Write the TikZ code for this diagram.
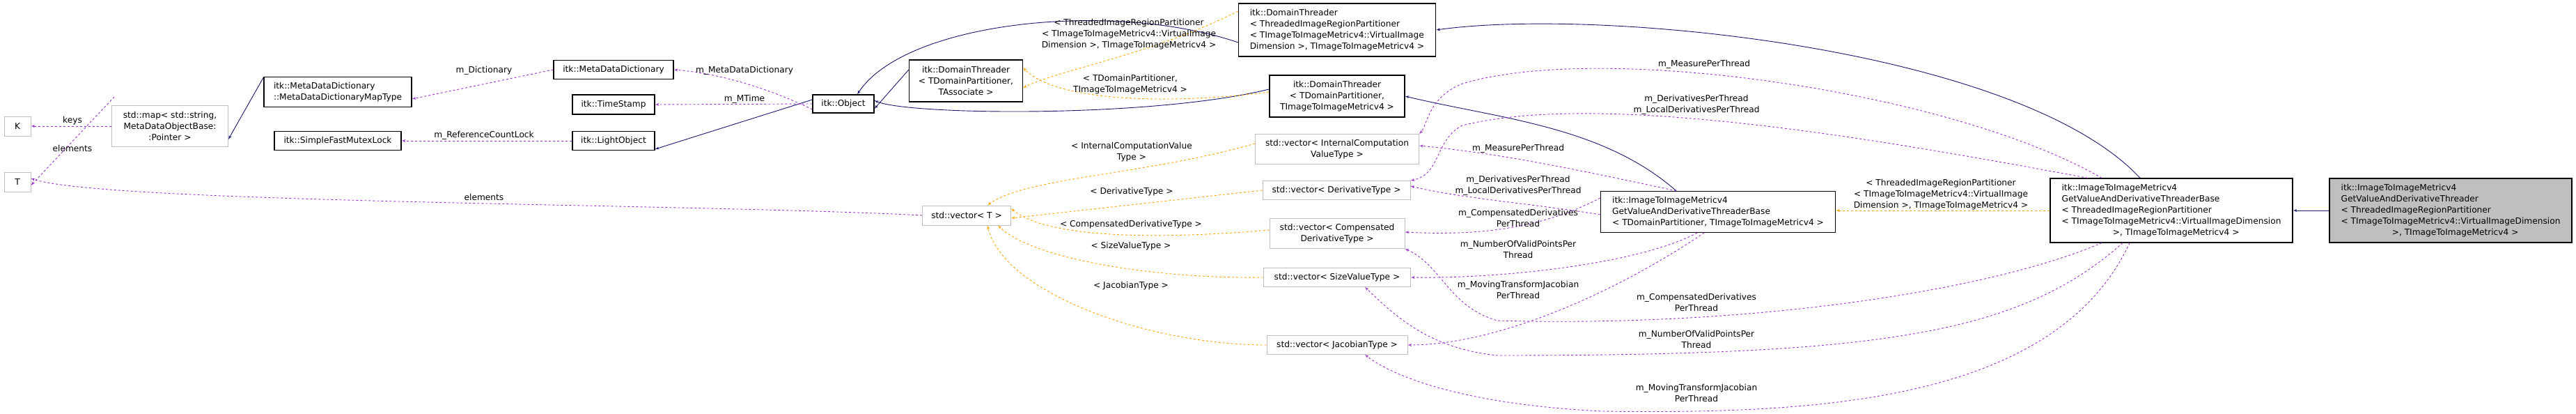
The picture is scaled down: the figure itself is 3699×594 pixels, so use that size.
\documentclass[tikz,border=0pt]{standalone}
\usepackage{fontspec}
\setmainfont{DejaVu Sans}
\usetikzlibrary{shapes,arrows,calc}
\definecolor{navy}{RGB}{25,25,112}
\definecolor{tmpl}{RGB}{255,165,0}
\definecolor{usage}{RGB}{153,50,204}
\definecolor{lgray}{RGB}{191,191,191}
\tikzstyle{cls} = [rectangle, draw=black, line width=1.2pt, inner sep=3pt,
    font=\fontsize{12.2}{16}\selectfont, align=center]
\tikzstyle{ext} = [cls, draw=lgray, line width=0.8pt]
\tikzstyle{lbl} = [font=\fontsize{12.2}{16}\selectfont, align=center, inner sep=0pt]
\tikzstyle{inh} = [draw=navy, line width=0.9pt, -latex']
\tikzstyle{tpl} = [draw=tmpl, line width=0.9pt, dashed, -latex']
\tikzstyle{use} = [draw=usage, line width=0.9pt, dashed, -latex']

\begin{document}
\begin{tikzpicture}[x=1pt, y=-1pt]
    \useasboundingbox (0,0) rectangle (3699,594);
    % Place nodes
    \node [ext, minimum width=38, minimum height=28] (k) at (25,181) {K};
    \node [ext, minimum width=38, minimum height=28] (t) at (25,261) {T};
    \node [ext, minimum width=167, minimum height=59] (map) at (244,181) {std::map< std::string,\\MetaDataObjectBase:\\:Pointer >};
    \node [cls, minimum width=212, minimum height=43, align=left] (maptype) at (485,132) {itk::MetaDataDictionary\\::MetaDataDictionaryMapType};
    \node [cls, minimum width=172, minimum height=27] (dict) at (881,100) {itk::MetaDataDictionary};
    \node [cls, minimum width=118, minimum height=28] (stamp) at (881,150) {itk::TimeStamp};
    \node [cls, minimum width=118, minimum height=27] (light) at (881,202) {itk::LightObject};
    \node [cls, minimum width=182, minimum height=27] (mutex) at (485,202) {itk::SimpleFastMutexLock};
    \node [cls, minimum width=88, minimum height=26] (object) at (1211,149) {itk::Object};
    \node [cls, minimum width=163, minimum height=60] (dt_assoc) at (1387,116) {itk::DomainThreader\\< TDomainPartitioner,\\TAssociate >};
    \node [cls, minimum width=283, minimum height=76, align=left] (dt_tirp) at (1920,43) {itk::DomainThreader\\< ThreadedImageRegionPartitioner\\< TImageToImageMetricv4::VirtualImage\\Dimension >, TImageToImageMetricv4 >};
    \node [cls, minimum width=194, minimum height=60] (dt_tdp) at (1920,138) {itk::DomainThreader\\< TDomainPartitioner,\\TImageToImageMetricv4 >};
    \node [ext, minimum width=235, minimum height=43] (v_icvt) at (1920,214) {std::vector< InternalComputation\\ValueType >};
    \node [ext, minimum width=212, minimum height=27] (v_deriv) at (1919,273) {std::vector< DerivativeType >};
    \node [ext, minimum width=194, minimum height=43] (v_comp) at (1920,335) {std::vector< Compensated\\DerivativeType >};
    \node [ext, minimum width=211, minimum height=27] (v_size) at (1920,398) {std::vector< SizeValueType >};
    \node [ext, minimum width=202, minimum height=27] (v_jac) at (1920,495) {std::vector< JacobianType >};
    \node [ext, minimum width=127, minimum height=28] (v_t) at (1388,309) {std::vector< T >};
    \node [cls, minimum width=337, minimum height=59, align=left] (base_tdp) at (2467,304) {itk::ImageToImageMetricv4\\GetValueAndDerivativeThreaderBase\\< TDomainPartitioner, TImageToImageMetricv4 >};
    \node [cls, minimum width=348, minimum height=92, align=left] (base_tirp) at (3118,302) {itk::ImageToImageMetricv4\\GetValueAndDerivativeThreaderBase\\< ThreadedImageRegionPartitioner\\< TImageToImageMetricv4::VirtualImageDimension\\\hspace*{6em}>, TImageToImageMetricv4 >};
    \node [cls, fill=lgray, minimum width=348, minimum height=92, align=left] (target) at (3519,302) {itk::ImageToImageMetricv4\\GetValueAndDerivativeThreader\\< ThreadedImageRegionPartitioner\\< TImageToImageMetricv4::VirtualImageDimension\\\hspace*{6em}>, TImageToImageMetricv4 >};
    % Draw inheritance edges
    \path [inh] (target.west) -- (base_tirp.east);
    \path [inh] ([xshift=-45pt]base_tirp.north) .. controls (2900,70) and (2300,10) .. (dt_tirp.east);
    \path [inh] ([xshift=-60pt]base_tdp.north) .. controls (2300,180) and (2150,170) .. (dt_tdp.east);
    \path [inh] ([yshift=-18pt]dt_tirp.west) .. controls (1600,0) and (1300,30) .. ([xshift=20pt]object.north);
    \path [inh] ([yshift=10pt]dt_tdp.west) .. controls (1650,170) and (1300,165) .. ([yshift=5pt]object.east);
    \path [inh] ([yshift=16pt]dt_assoc.west) -- ([yshift=-7pt]object.east);
    \path [inh] ([yshift=6pt]object.west) -- ([yshift=-12pt]light.east);
    \path [inh] ([yshift=21pt]maptype.west) -- ([yshift=-19pt]map.east);
    % Draw template edges
    \path [tpl] (base_tirp.west) -- (base_tirp.west -| base_tdp.east);
    \path [tpl] ([yshift=27pt]dt_tirp.west) .. controls (1650,80) and (1520,100) .. ([yshift=-10pt]dt_assoc.east);
    \path [tpl] ([yshift=6pt]dt_tdp.west) .. controls (1700,148) and (1520,150) .. ([yshift=19pt]dt_assoc.east);
    \path [tpl] ([yshift=8pt]v_icvt.west) .. controls (1650,250) and (1470,255) .. ([xshift=30pt]v_t.north);
    \path [tpl] (v_deriv.west) -- ([yshift=-4pt]v_t.east);
    \path [tpl] ([yshift=5pt]v_comp.west) .. controls (1650,345) and (1500,340) .. ([yshift=10pt]v_t.east);
    \path [tpl] (v_size.west) .. controls (1650,400) and (1480,370) .. ([xshift=45pt]v_t.south);
    \path [tpl] (v_jac.west) .. controls (1650,495) and (1440,420) .. ([xshift=30pt]v_t.south);
    % Draw usage edges
    \path [use] ([yshift=-8pt]object.west) .. controls (1100,125) and (1030,105) .. (dict.east);
    \path [use] (object.west) -- (stamp.east);
    \path [use] (light.west) -- (mutex.east);
    \path [use] (dict.west) -- ([yshift=-10pt]maptype.east);
    \path [use] (map.west) -- (k.east);
    \path [use] ([xshift=-80pt,yshift=12pt]map.north) -- ([yshift=-5pt]t.east);
    \path [use] (v_t.west) .. controls (1000,292) and (150,292) .. ([yshift=5pt]t.east);
    \path [use] ([xshift=-60pt]base_tdp.north) .. controls (2250,240) and (2150,220) .. ([yshift=5pt]v_icvt.east);
    \path [use] ([yshift=-4pt]base_tdp.west) .. controls (2200,292) and (2100,285) .. ([yshift=6pt]v_deriv.east);
    \path [use] ([yshift=20pt]base_tdp.west) .. controls (2200,335) and (2100,337) .. ([yshift=2pt]v_comp.east);
    \path [use] ([xshift=-30pt]base_tdp.south) .. controls (2350,380) and (2150,400) .. (v_size.east);
    \path [use] ([xshift=-20pt]base_tdp.south) .. controls (2320,420) and (2150,495) .. (v_jac.east);
    \path [use] ([xshift=-100pt]base_tirp.north) .. controls (2800,130) and (2300,60) .. (2100,120) .. controls (2050,140) and (2050,180) .. (v_icvt.north east);
    \path [use] ([xshift=-120pt]base_tirp.north) .. controls (2700,200) and (2300,130) .. (2100,180) .. controls (2060,200) and (2070,250) .. (v_deriv.north east);
    \path [use] ([xshift=-100pt]base_tirp.south) .. controls (2850,420) and (2500,470) .. (2150,460) .. controls (2080,440) and (2070,380) .. (v_comp.south east);
    \path [use] ([xshift=-70pt]base_tirp.south) .. controls (2900,480) and (2700,510) .. (2150,510) .. controls (2050,500) and (2000,450) .. ([xshift=40pt]v_size.south);
    \path [use] ([xshift=-60pt]base_tirp.south) .. controls (2950,580) and (2600,594) .. (2300,590) .. controls (2100,580) and (2000,540) .. ([xshift=40pt]v_jac.south);
    % Edge labels
    \node [lbl] at (104,173) {keys};
    \node [lbl] at (104,213) {elements};
    \node [lbl] at (695,283) {elements};
    \node [lbl] at (695,101) {m\_Dictionary};
    \node [lbl] at (1069,101) {m\_MetaDataDictionary};
    \node [lbl] at (1069,142) {m\_MTime};
    \node [lbl] at (695,194) {m\_ReferenceCountLock};
    \node [lbl] at (1621,49) {< ThreadedImageRegionPartitioner\\< TImageToImageMetricv4::VirtualImage\\Dimension >, TImageToImageMetricv4 >};
    \node [lbl] at (1623,121) {< TDomainPartitioner,\\TImageToImageMetricv4 >};
    \node [lbl] at (1625,218) {< InternalComputationValue\\Type >};
    \node [lbl] at (1625,275) {< DerivativeType >};
    \node [lbl] at (1624,322) {< CompensatedDerivativeType >};
    \node [lbl] at (1624,353) {< SizeValueType >};
    \node [lbl] at (1624,410) {< JacobianType >};
    \node [lbl] at (2180,213) {m\_MeasurePerThread};
    \node [lbl] at (2180,266) {m\_DerivativesPerThread\\m\_LocalDerivativesPerThread};
    \node [lbl] at (2180,313) {m\_CompensatedDerivatives\\PerThread};
    \node [lbl] at (2180,358) {m\_NumberOfValidPointsPer\\Thread};
    \node [lbl] at (2180,416) {m\_MovingTransformJacobian\\PerThread};
    \node [lbl] at (2447,92) {m\_MeasurePerThread};
    \node [lbl] at (2436,150) {m\_DerivativesPerThread\\m\_LocalDerivativesPerThread};
    \node [lbl] at (2436,434) {m\_CompensatedDerivatives\\PerThread};
    \node [lbl] at (2436,487) {m\_NumberOfValidPointsPer\\Thread};
    \node [lbl] at (2436,564) {m\_MovingTransformJacobian\\PerThread};
    \node [lbl] at (2787,279) {< ThreadedImageRegionPartitioner\\< TImageToImageMetricv4::VirtualImage\\Dimension >, TImageToImageMetricv4 >};
\end{tikzpicture}
\end{document}
